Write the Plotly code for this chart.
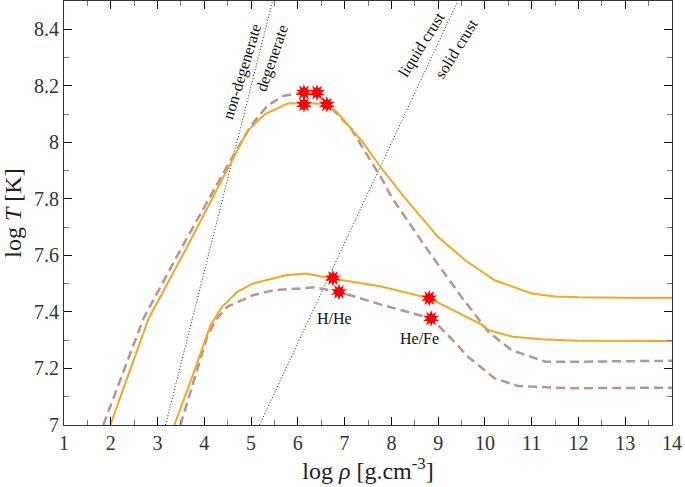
import plotly.graph_objects as go

# ---- data ----
hot_solid_x = [1.99, 2.81, 3.6, 4.84, 4.92, 5.3, 5.78, 6.2, 6.62, 6.82, 7.39, 7.78, 8.27, 9.0, 9.6, 10.21, 11.0, 11.5, 12.0, 13.0, 14.0]
hot_solid_y = [7.0, 7.377, 7.62, 8.01, 8.04, 8.10, 8.137, 8.139, 8.135, 8.11, 8.0, 7.91, 7.807, 7.665, 7.58, 7.512, 7.465, 7.455, 7.452, 7.45, 7.45]

hot_dash_x = [1.84, 2.70, 3.49, 4.56, 5.0, 5.35, 5.7, 6.1, 6.41, 6.62, 6.9, 7.14, 7.5, 7.8, 8.0, 8.78, 9.5, 10.07, 10.57, 11.29, 12.0, 13.0, 14.0]
hot_dash_y = [7.0, 7.377, 7.62, 7.936, 8.06, 8.13, 8.165, 8.176, 8.174, 8.14, 8.09, 8.048, 7.95, 7.87, 7.807, 7.618, 7.453, 7.33, 7.265, 7.224, 7.224, 7.225, 7.227]

cool_solid_x = [3.36, 3.77, 4.13, 4.38, 4.7, 5.03, 5.74, 6.17, 6.74, 7.78, 8.82, 9.93, 10.07, 10.6, 11.21, 12.0, 14.0]
cool_solid_y = [7.0, 7.183, 7.353, 7.418, 7.47, 7.5, 7.53, 7.536, 7.518, 7.49, 7.448, 7.355, 7.336, 7.312, 7.303, 7.298, 7.297]

cool_dash_x = [3.49, 4.06, 4.24, 4.49, 5.03, 5.49, 6.06, 6.35, 6.88, 7.78, 8.85, 9.28, 9.64, 10.21, 10.71, 11.79, 14.0]
cool_dash_y = [7.0, 7.312, 7.371, 7.418, 7.459, 7.477, 7.483, 7.487, 7.471, 7.426, 7.377, 7.306, 7.241, 7.165, 7.138, 7.13, 7.132]

degen_x = [3.17, 5.46]
degen_y = [7.0, 8.5]
crust_x = [5.18, 9.42]
crust_y = [7.0, 8.5]

star_x = [6.13, 6.41, 6.13, 6.62, 6.75, 6.88, 8.81, 8.85]
star_y = [8.177, 8.176, 8.134, 8.134, 7.52, 7.471, 7.449, 7.377]

x_ticks = list(range(1, 15))
y_ticks = [7.0, 7.2, 7.4, 7.6, 7.8, 8.0, 8.2, 8.4]
y_tick_text = ["7", "7.2", "7.4", "7.6", "7.8", "8", "8.2", "8.4"]

ORANGE = "#F5A623"
ROSY = "#B99494"
FONT = "Liberation Serif, Times New Roman, serif"

fig = go.Figure()

for xs, ys in [(degen_x, degen_y), (crust_x, crust_y)]:
    fig.add_trace(go.Scatter(x=xs, y=ys, mode="lines",
                             line=dict(color="#222222", width=1, dash="1px,2px"),
                             hoverinfo="skip", showlegend=False))

fig.add_trace(go.Scatter(x=hot_dash_x, y=hot_dash_y, mode="lines",
                         line=dict(color=ROSY, width=2.5, dash="9px,5px"), showlegend=False))
fig.add_trace(go.Scatter(x=cool_dash_x, y=cool_dash_y, mode="lines",
                         line=dict(color=ROSY, width=2.5, dash="9px,5px"), showlegend=False))
fig.add_trace(go.Scatter(x=hot_solid_x, y=hot_solid_y, mode="lines",
                         line=dict(color=ORANGE, width=2), showlegend=False))
fig.add_trace(go.Scatter(x=cool_solid_x, y=cool_solid_y, mode="lines",
                         line=dict(color=ORANGE, width=2), showlegend=False))

for ang in (0, 36):
    fig.add_trace(go.Scatter(x=star_x, y=star_y, mode="markers",
                             marker=dict(symbol="star", size=12, color="#FF0000", angle=ang,
                                         line=dict(width=0)),
                             showlegend=False))
fig.add_trace(go.Scatter(x=star_x, y=star_y, mode="markers",
                         marker=dict(symbol="circle", size=8, color="#FF0000", line=dict(width=0)),
                         showlegend=False))

labels = [
    ("non-degenerate", 4.82, 8.251, -73),
    ("degenerate", 5.46, 8.297, -71),
    ("liquid crust", 8.64, 8.346, -58),
    ("solid crust", 9.39, 8.332, -58),
    ("H/He", 6.78, 7.378, 0),
    ("He/Fe", 8.6, 7.307, 0),
]
for txt, lx, ly, ang in labels:
    fig.add_annotation(x=lx, y=ly, text=txt, showarrow=False, textangle=ang,
                       xanchor="center", yanchor="middle",
                       font=dict(family=FONT, size=16, color="#111111"))

axis_common = dict(
    showgrid=False, zeroline=False, showline=True, linecolor="#333333", linewidth=1,
    mirror="ticks", ticks="inside", ticklen=8, tickcolor="#111111", tickwidth=1,
    tickfont=dict(family=FONT, size=20, color="#333333"),
)

fig.update_xaxes(range=[1, 14], tickvals=x_ticks,
                 minor=dict(dtick=0.5, ticks="inside", ticklen=5, tickcolor="#777777"),
                 title=dict(text="log <i>ρ</i> [g.cm<sup>-3</sup>]",
                            font=dict(family=FONT, size=24, color="#222222"), standoff=6),
                 **axis_common)
fig.update_yaxes(range=[7, 8.5], tickvals=y_ticks, ticktext=y_tick_text,
                 minor=dict(dtick=0.1, ticks="inside", ticklen=5, tickcolor="#777777"),
                 title=dict(text="log <i>T</i> [K]",
                            font=dict(family=FONT, size=24, color="#222222"), standoff=8),
                 **axis_common)

fig.update_layout(width=685, height=487, margin=dict(l=64, r=13, t=1, b=62),
                  plot_bgcolor="white", paper_bgcolor="white", showlegend=False,
                  font=dict(family=FONT), hovermode=False)

fig.write_html("out.html", config={"displayModeBar": False},
               post_script="document.body.style.margin='0';document.body.style.overflow='hidden';")
